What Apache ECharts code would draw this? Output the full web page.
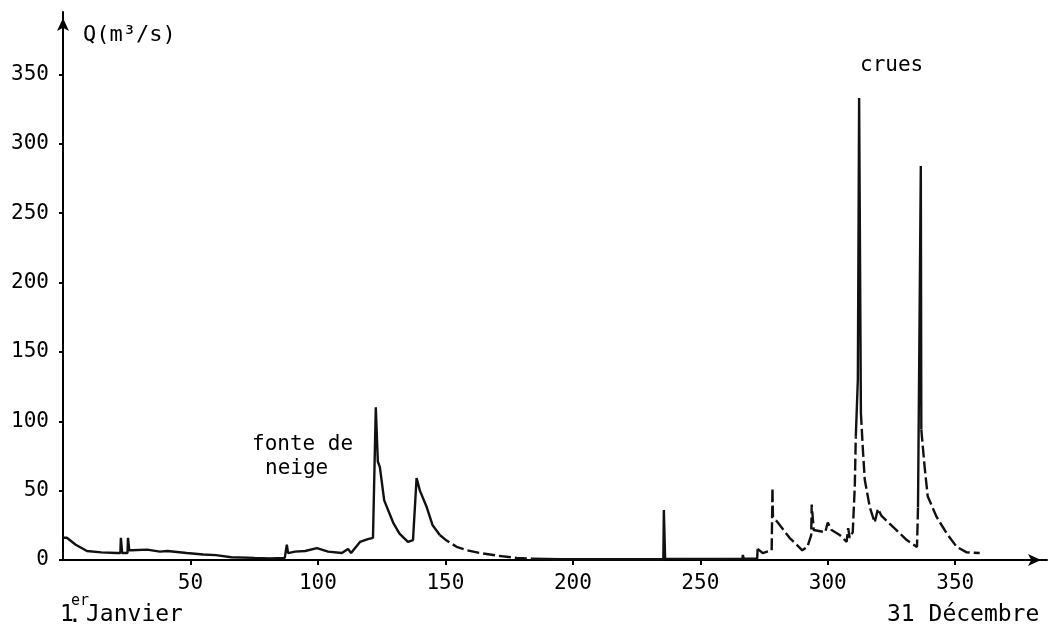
<!DOCTYPE html>
<html lang="fr">
<head>
    <meta charset="UTF-8">
    <script src="https://cdn.jsdelivr.net/npm/echarts@6/dist/echarts.min.js"></script>
    <title>Débit journalier</title>
    <style>
        html,body{
            height:100%;
            width:100%;
            margin:0;
            padding:0;
            background:#fff;
        }
    </style>
</head>
<body>
    <div id="main" style="width:1050px;height:626px"></div>
    <script>
        // jour de l'année / débit Q (m3/s)
        var days = [0, 1.5, 5, 9.4, 15, 21, 22.5, 22.7, 23.2, 25.3, 25.5, 26, 27, 33, 38, 41, 48.5, 55, 60, 66, 75, 81, 87,
            87.8, 88.3, 91, 95, 99.6, 104, 109.4, 111.8, 113, 116.5, 119.6, 121.6, 122.7, 123.5, 124.3, 126, 129.5, 132,
            135.3, 137.3, 138.7, 140, 142.7, 145, 147.8, 150.5, 154.4, 158.4, 163.5, 171, 178, 184, 195, 210, 225, 235.5,
            235.7, 236.2, 245, 255, 266.5, 266.7, 267, 272.3, 272.5, 274.5, 278, 278.3, 278.5, 280.4, 285, 290, 292,
            293.5, 293.7, 294.5, 299, 300, 301.5, 304.7, 307.4, 308, 308.6, 309.8, 310.6, 311, 311.8, 312.3, 313, 313.7,
            314.5, 316.5, 318.4, 319.7, 321, 325.5, 331, 335, 335.4, 336.5, 336.7, 338, 339.2, 342.7, 346.7, 350.6,
            354.5, 359.6];
        var flow = [16, 16, 11, 6.5, 5.5, 5, 5, 16, 5, 5, 16, 7, 7, 7.5, 6, 6.5, 5, 4, 3.5, 2, 1.5, 1.2, 1.5,
            11, 5, 6, 6.5, 8.6, 6, 5, 8, 5, 13, 15, 16, 110, 71, 67, 43, 27, 19,
            13, 14.4, 59, 50, 38, 25, 18, 14, 9.5, 7, 5, 3, 1.5, 1, 0.5, 0.5, 0.5, 0.5,
            36, 1, 0.8, 0.8, 1, 3.6, 1, 1, 8, 5, 7, 52, 31, 27, 16, 7, 9.4,
            18, 40, 21.6, 20, 27, 21.6, 18, 13, 23, 16, 20, 53, 89, 130, 333, 106, 82,
            58, 38, 27, 37, 32, 24, 14.4, 9.4, 38, 284, 94, 67, 46, 31, 19, 9.4,
            5.5, 5];
        // parties tracées en tirets (débits reconstitués)
        var dashedRanges = [[147.8, 184], [272.5, 311], [313, 335.4], [336.7, 360]];

        var yTicks = [0, 50, 100, 150, 200, 250, 300, 350];
        var xTicks = [50, 100, 150, 200, 250, 300, 350];

        var font = '"DejaVu Sans Mono", monospace';

        function inDash(d) {
            return dashedRanges.some(function (r) { return d >= r[0] && d <= r[1]; });
        }
        function strictlyInDash(d) {
            return dashedRanges.some(function (r) { return d > r[0] && d < r[1]; });
        }
        var solidData = days.map(function (d, i) {
            return strictlyInDash(d) ? [d, null] : [d, flow[i]];
        });
        var dashData = days.map(function (d, i) {
            return inDash(d) ? [d, flow[i]] : [d, null];
        });

        var myChart = echarts.init(document.getElementById('main'));
        var axisLine = {
            show: true,
            symbol: ['none', 'arrow'],
            symbolSize: [9, 13],
            symbolOffset: [0, -6],
            lineStyle: { color: '#000', width: 2 }
        };
        var option = {
            backgroundColor: '#fff',
            animation: false,
            grid: { left: 63, right: 3, top: 12, bottom: 66 },
            xAxis: {
                type: 'value',
                min: 0,
                max: 386,
                axisLine: axisLine,
                axisTick: { show: true, customValues: xTicks, length: 5, lineStyle: { color: '#000', width: 2 } },
                axisLabel: { customValues: xTicks, color: '#000', fontFamily: font, fontSize: 21, margin: 13 },
                splitLine: { show: false }
            },
            yAxis: {
                type: 'value',
                min: 0,
                max: 395,
                axisLine: axisLine,
                axisTick: { show: true, customValues: yTicks, length: 4, lineStyle: { color: '#000', width: 2 } },
                axisLabel: { customValues: yTicks, color: '#000', fontFamily: font, fontSize: 21, margin: 14 },
                splitLine: { show: false }
            },
            series: [{
                type: 'line',
                data: solidData,
                showSymbol: false,
                connectNulls: false,
                lineStyle: { color: '#111', width: 2.4 }
            }, {
                type: 'line',
                data: dashData,
                showSymbol: false,
                connectNulls: false,
                lineStyle: { color: '#111', width: 2.4, type: [12, 4] }
            }],
            graphic: [
                { type: 'text', x: 83, y: 35, style: { text: 'Q(m³/s)', font: '22px ' + font, fill: '#000', verticalAlign: 'middle' } },
                { type: 'text', x: 860, y: 66, style: { text: 'crues', font: '21px ' + font, fill: '#000', verticalAlign: 'middle' } },
                { type: 'text', x: 252, y: 445, style: { text: 'fonte de', font: '21px ' + font, fill: '#000', verticalAlign: 'middle' } },
                { type: 'text', x: 265, y: 469, style: { text: 'neige', font: '21px ' + font, fill: '#000', verticalAlign: 'middle' } },
                { type: 'text', x: 60, y: 615, style: { text: '1', font: '23px ' + font, fill: '#000', verticalAlign: 'middle' } },
                { type: 'text', x: 68, y: 616, style: { text: '.', font: '23px ' + font, fill: '#000', verticalAlign: 'middle' } },
                { type: 'text', x: 71, y: 601, style: { text: 'er', font: '15px ' + font, fill: '#000', verticalAlign: 'middle' } },
                { type: 'text', x: 86, y: 615, style: { text: 'Janvier', font: '23px ' + font, fill: '#000', verticalAlign: 'middle' } },
                { type: 'text', x: 887, y: 615, style: { text: '31 Décembre', font: '23px ' + font, fill: '#000', verticalAlign: 'middle' } }
            ]
        };
        myChart.setOption(option);
    </script>
</body>
</html>
